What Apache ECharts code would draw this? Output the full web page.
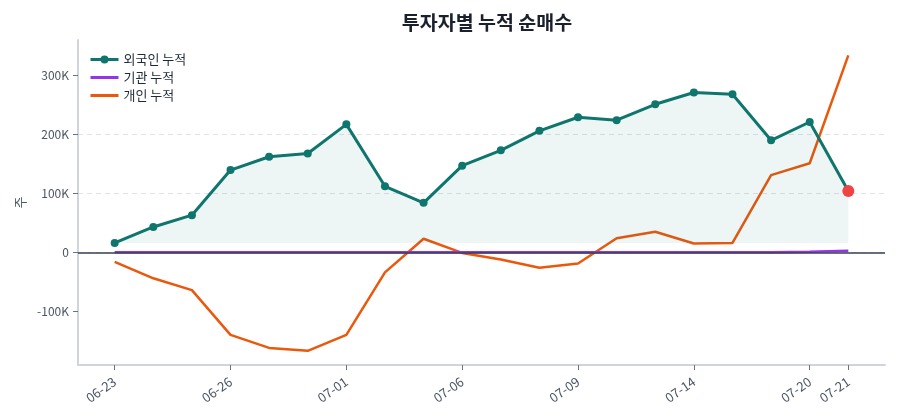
<!DOCTYPE html>
<html>
<head>
<meta charset="utf-8">
<script src="https://cdn.jsdelivr.net/npm/echarts@6/dist/echarts.min.js"></script>
<style>
html,body{margin:0;padding:0;background:#fff;}
#c{width:900px;height:420px;}
</style>
</head>
<body>
<div id="c"></div>
<script>
const dates = ['06-23','06-24','06-25','06-26','06-27','06-30','07-01','07-02','07-03','07-06',
               '07-07','07-08','07-09','07-10','07-11','07-14','07-15','07-16','07-20','07-21'];
const foreignCum = [16000,43000,63000,139500,162000,167500,217000,112000,84000,147000,
                    173000,206000,229000,224000,251000,271000,268000,190000,221000,104000];
const instCum = [0,0,0,0,0,0,0,0,0,0,0,0,0,0,0,0,0,300,800,2500];
const indivCum = [-16000,-44000,-64000,-140000,-162000,-167000,-140000,-34000,23000,-1000,
                  -12000,-26000,-19000,24000,35000,15000,16000,131000,151000,334000];
const labelIdx = [0,3,6,9,12,15,18,19];
const yTicks = [-100000,0,100000,200000,300000];
const seriesNames = ['외국인 누적','기관 누적','개인 누적'];

const FONT = '"Noto Sans CJK KR", "Noto Sans", sans-serif';
const pts = arr => arr.map((v,i)=>[i,v]);
const lastIdx = foreignCum.length - 1;
const foreignData = foreignCum.map((v,i)=> i===lastIdx
  ? {value:[i,v], symbolSize:12, itemStyle:{color:'#ef4444'}}
  : {value:[i,v]});

const chart = echarts.init(document.getElementById('c'), null, {renderer:'canvas'});
chart.setOption({
  animation:false,
  backgroundColor:'#fff',
  textStyle:{fontFamily:FONT},
  title:{
    text:'투자자별 누적 순매수',
    left:482, top:8, textAlign:'center',
    textStyle:{fontSize:19.5, fontWeight:'bold', color:'#1a202c', fontFamily:FONT}
  },
  legend:{
    orient:'vertical', left:84, top:48, itemGap:5,
    itemWidth:28, itemHeight:10,
    data:[
      {name:seriesNames[0], lineStyle:{width:3}},
      {name:seriesNames[1], itemStyle:{opacity:0}, lineStyle:{width:3}},
      {name:seriesNames[2], itemStyle:{opacity:0}, lineStyle:{width:3}}
    ],
    textStyle:{fontSize:13, color:'#1f2937', fontFamily:FONT}
  },
  grid:{left:78, right:15, top:40, bottom:55, containLabel:false},
  xAxis:{
    type:'value', min:-0.95, max:19.95,
    axisLine:{show:true, onZero:false, lineStyle:{color:'#d1d5db', width:2}},
    axisTick:{show:true, length:5, customValues:labelIdx, lineStyle:{color:'#6b7280', width:1}},
    axisLabel:{customValues:labelIdx, formatter:v=>dates[Math.round(v)], rotate:35,
      fontSize:13, color:'#4b5563', margin:15, fontFamily:FONT},
    splitLine:{show:false}
  },
  yAxis:{
    type:'value', min:-191000, max:360000,
    name:'주', nameLocation:'middle', nameGap:51,
    nameTextStyle:{fontSize:13, color:'#4b5563', fontFamily:FONT},
    axisLine:{show:true, onZero:false, lineStyle:{color:'#d1d5db', width:2}},
    axisTick:{show:true, length:5, customValues:yTicks, lineStyle:{color:'#6b7280', width:1}},
    axisLabel:{customValues:yTicks, formatter:v=> v===0 ? '0' : (v/1000)+'K',
      fontSize:12, color:'#4b5563', margin:9, fontFamily:FONT},
    splitLine:{show:true, showMinLine:false, showMaxLine:false,
      lineStyle:{color:'#e0e3e8', type:[5,4], width:1}}
  },
  series:[
    {
      name:'zero', type:'line', data:[], silent:true, z:1,
      markLine:{silent:true, symbol:['none','none'], label:{show:false},
        lineStyle:{color:'#374151', width:1.5, type:'solid'},
        data:[{yAxis:0}]}
    },
    {
      name:seriesNames[2], type:'line', data:pts(indivCum), z:3,
      symbol:'none', lineStyle:{color:'#ea580c', width:2.5}, itemStyle:{color:'#ea580c'}
    },
    {
      name:seriesNames[1], type:'line', data:pts(instCum), z:3,
      symbol:'none', lineStyle:{color:'#9333ea', width:2.5}, itemStyle:{color:'#9333ea'}
    },
    {
      name:seriesNames[0], type:'line', data:foreignData, z:4,
      symbol:'circle', symbolSize:8, showSymbol:true,
      lineStyle:{color:'#0f766e', width:3}, itemStyle:{color:'#0f766e'},
      areaStyle:{color:'rgba(15,118,110,0.1)', origin:Math.min(...foreignCum)}
    }
  ]
});
</script>
</body>
</html>
